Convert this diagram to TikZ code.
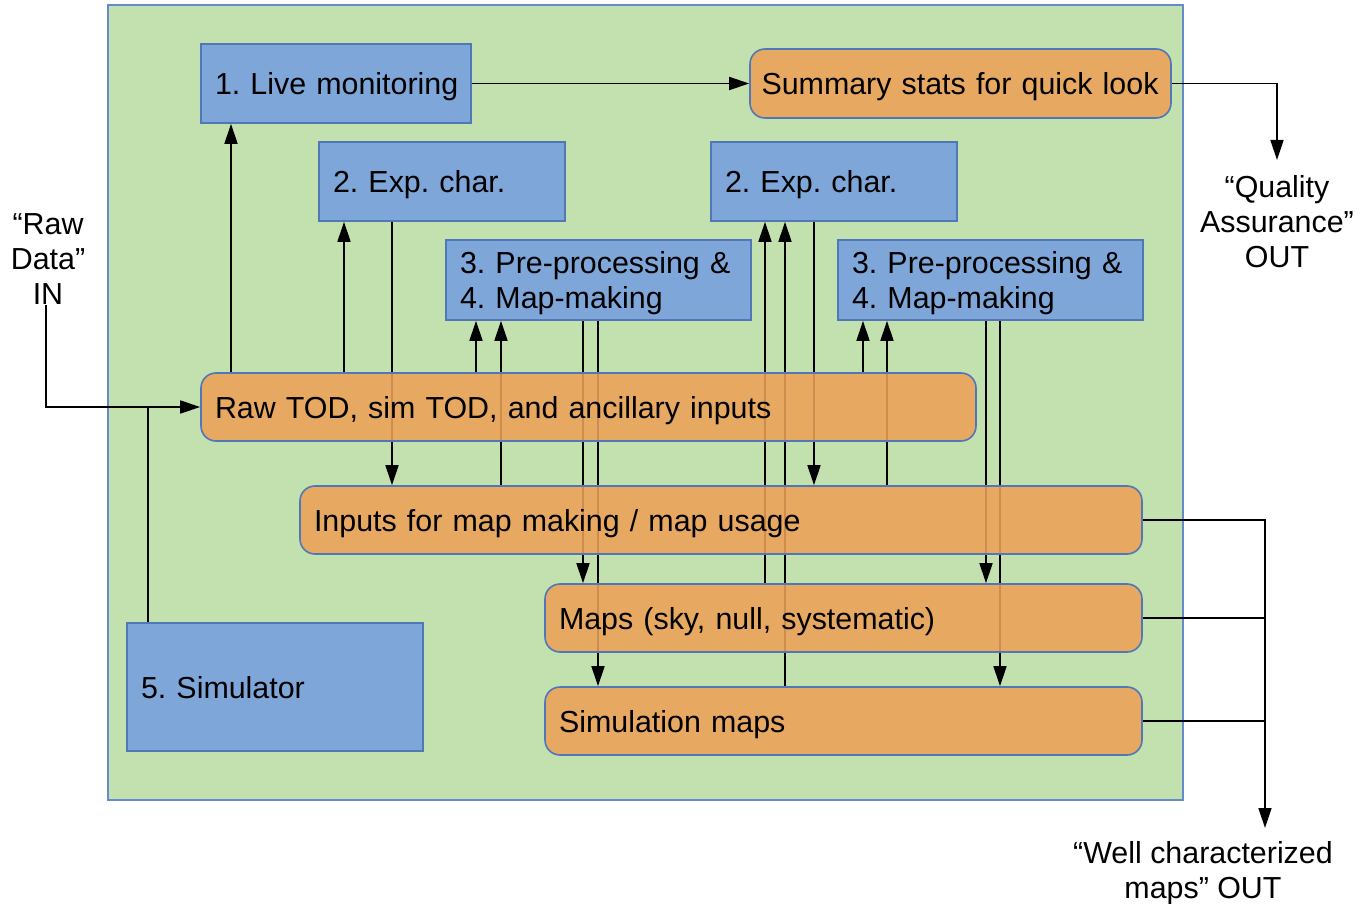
\documentclass[tikz,border=0pt]{standalone}
\usepackage{fontspec}
\setmainfont{Liberation Sans}
\usetikzlibrary{arrows.meta}
\pgfdeclarelayer{back}
\pgfdeclarelayer{wires}
\pgfsetlayers{back,wires,main}

\definecolor{panel}{RGB}{195,224,175}
\definecolor{panelline}{RGB}{100,140,205}
\definecolor{bluefill}{RGB}{126,166,216}
\definecolor{blueline}{RGB}{80,120,185}
\definecolor{orangefill}{RGB}{236,161,88}

\begin{document}
\begin{tikzpicture}[x=0.5pt,y=-0.5pt,
  every node/.style={font=\fontsize{15.2}{17.5}\selectfont\frenchspacing},
  task/.style={draw=blueline, line width=0.8pt, fill=bluefill, inner xsep=7pt, inner ysep=0pt, align=left},
  store/.style={draw=blueline, line width=0.8pt, fill=orangefill, fill opacity=0.88, text opacity=1,
                rounded corners=7.5pt, inner xsep=7pt, inner ysep=0pt, align=left, minimum height=34pt},
  oneline/.style={text height=12.5pt, text depth=1.5pt},
  arr/.style={-{Triangle[length=10pt,width=6.5pt]}, line width=0.8pt},
  wire/.style={line width=0.8pt},
  outlbl/.style={align=center, inner sep=0pt}]

\useasboundingbox (0,0) rectangle (1367,904);

% process blocks
\node[task, oneline, text width=121pt, minimum height=39.5pt] (live) at (336,83.5) {\mbox{1. Live monitoring}};
\node[task, oneline, text width=109pt, minimum height=39.5pt] (expL) at (442,181.5) {\mbox{2. Exp. char.}};
\node[task, oneline, text width=109pt, minimum height=39.5pt] (expR) at (834,181.5) {\mbox{2. Exp. char.}};
\node[task, text width=138.5pt, minimum height=40pt] (preL) at (598.5,280) {\rule{0pt}{14.1pt}\mbox{3. Pre-processing \&}\\\mbox{4. Map-making}};
\node[task, text width=138.5pt, minimum height=40pt] (preR) at (990.5,280) {\rule{0pt}{14.1pt}\mbox{3. Pre-processing \&}\\\mbox{4. Map-making}};
\node[task, oneline, text width=134pt, minimum height=64pt] (sim) at (275,687) {\mbox{5. Simulator}};

% data products
\node[store, oneline, text width=199pt, inner xsep=5.75pt, minimum height=34.5pt] (summ) at (960.5,83.5) {\mbox{Summary stats for quick look}};
\node[store, oneline, text width=373.5pt] (raw) at (588.5,407) {\mbox{Raw TOD, sim TOD, and ancillary inputs}};
\node[store, oneline, text width=407pt] (inp) at (721,520) {\mbox{Inputs for map making / map usage}};
\node[store, oneline, text width=284.5pt] (maps) at (843.5,618) {\mbox{Maps (sky, null, systematic)}};
\node[store, oneline, text width=284.5pt] (simmaps) at (843.5,721) {\mbox{Simulation maps}};

% external labels
\node[outlbl] (rawin) at (48,259) {“Raw\\Data”\\IN};
\node[outlbl, anchor=north, inner ysep=7.5pt] (qa) at (1277,160) {“Quality\\Assurance”\\OUT};
\node[outlbl, anchor=north, inner ysep=6.5pt] (wc) at (1203,828) {“Well characterized\\maps” OUT};

\begin{pgfonlayer}{back}
  \node[draw=panelline, fill=panel, line width=0.6pt, minimum width=537.5pt, minimum height=397.5pt] (panel) at (645.5,402.5) {};
\end{pgfonlayer}

\begin{pgfonlayer}{wires}
  \draw[arr] (live.east) -- (summ.west);
  \draw[arr] (summ.east) -| (qa.north);
  \draw[arr] (raw.north -| 231,0) -- (live.south -| 231,0);
  \draw[arr] (raw.north -| 344,0) -- (expL.south -| 344,0);
  \draw[arr] (expL.south -| 392,0) -- (inp.north -| 392,0);
  \draw[arr] (raw.north -| 476,0) -- (preL.south -| 476,0);
  \draw[arr] (inp.north -| 501,0) -- (preL.south -| 501,0);
  \draw[arr] (preL.south -| 583,0) -- (maps.north -| 583,0);
  \draw[arr] (preL.south -| 598,0) -- (simmaps.north -| 598,0);
  \draw[arr] (maps.north -| 765,0) -- (expR.south -| 765,0);
  \draw[arr] (simmaps.north -| 785,0) -- (expR.south -| 785,0);
  \draw[arr] (expR.south -| 814,0) -- (inp.north -| 814,0);
  \draw[arr] (raw.north -| 863,0) -- (preR.south -| 863,0);
  \draw[arr] (inp.north -| 887,0) -- (preR.south -| 887,0);
  \draw[arr] (preR.south -| 986,0) -- (maps.north -| 986,0);
  \draw[arr] (preR.south -| 1000,0) -- (simmaps.north -| 1000,0);
  \draw[arr] (inp.east) -| (wc.north -| 1265,0);
  \draw[wire] (maps.east) -- (maps.east -| 1265,0);
  \draw[wire] (simmaps.east) -- (simmaps.east -| 1265,0);
  \coordinate (join) at (148,407);
  \draw[arr] (rawin.south -| 46,0) |- (raw.west);
  \draw[wire] (sim.north -| join) -- (join);
\end{pgfonlayer}
\end{tikzpicture}
\end{document}
